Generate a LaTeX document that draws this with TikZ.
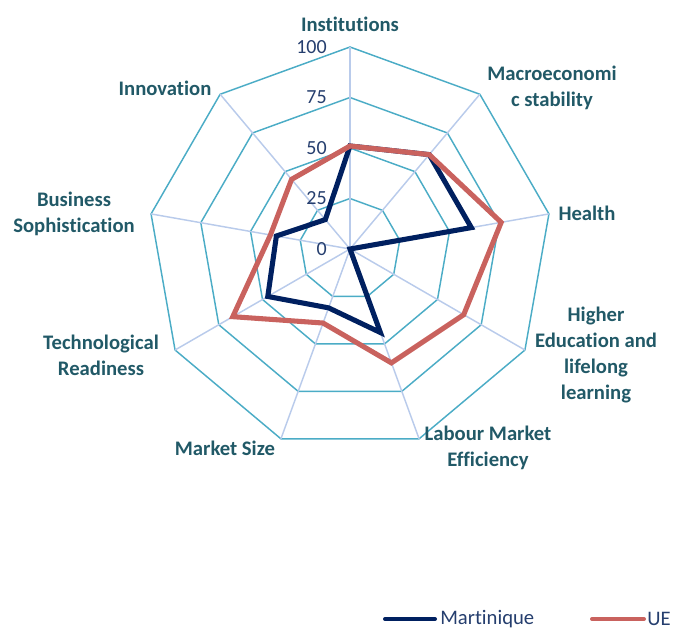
\documentclass[tikz,border=0pt]{standalone}
\usepackage{fontspec}
\setmainfont{Carlito}[RawFeature={-liga;-clig;-calt;-dlig}]

\definecolor{ringteal}{HTML}{4BACC6}
\definecolor{spokeblue}{HTML}{B9CBEB}
\definecolor{labelteal}{HTML}{215967}
\definecolor{tickblue}{HTML}{253E6E}
\definecolor{martblue}{HTML}{002060}
\definecolor{uered}{HTML}{C9625E}

\begin{document}
\begin{tikzpicture}[x=0.75pt, y=-0.75pt,
    ring/.style={draw=ringteal, line width=1.1pt, line join=miter},
    spoke/.style={draw=spokeblue, line width=1.1pt},
    series/.style={line width=3.8pt, line join=miter},
    axislabel/.style={text=labelteal, font=\fontsize{15.5}{19.5}\selectfont\bfseries, align=center, inner sep=0pt},
    ticklabel/.style={text=tickblue, font=\fontsize{15}{18}\selectfont, anchor=east, inner sep=0pt},
    legendtext/.style={text=tickblue, font=\fontsize{15.5}{18}\selectfont, anchor=west, inner sep=0pt}]

    \useasboundingbox (0,0) rectangle (675,632);

    \begin{scope}[shift={(350,249)}]  

        % web
        \foreach \v in {25,50,75,100} {
            \draw[ring] (-90:2.02*\v) \foreach \i in {1,...,8} { -- (-90+40*\i:2.02*\v) } -- cycle;
        }
        \foreach \i in {0,...,8} {
            \draw[spoke] (0,0) -- (-90+40*\i:202);
        }

        \foreach \v in {0,25,50,75,100} {
            \node[ticklabel] (tick\v) at (-23,-2.02*\v) {\v};
        }

        % Martinique
        \draw[series, martblue] (-90:2.02*51) -- (-50:2.02*61) -- (-10:2.02*61) -- (30:0) -- (70:2.02*44)
            -- (110:2.02*31) -- (150:2.02*47) -- (190:2.02*37) -- (230:2.02*19) -- cycle;

        % UE
        \draw[series, uered] (-90:2.02*51) -- (-50:2.02*61) -- (-10:2.02*76) -- (30:2.02*65) -- (70:2.02*60)
            -- (110:2.02*39) -- (150:2.02*67) -- (190:2.02*40) -- (230:2.02*45) -- cycle;

    \end{scope}

    \node[axislabel] (instit) at (350,24) {Institutions};
    \node[axislabel] (macro) at (552,88) {Macroeconomi\\c stability};
    \node[axislabel] (health) at (587,213) {Health};
    \node[axislabel] (higher) at (596,355) {Higher\\Education and\\lifelong\\learning};
    \node[axislabel] (labour) at (488,448) {Labour Market\\Efficiency};
    \node[axislabel] (msize) at (225,448) {Market Size};
    \node[axislabel] (techno) at (101,355) {Technological\\Readiness};
    \node[axislabel] (business) at (74,214) {Business\\Sophistication};
    \node[axislabel] (innov) at (165,88) {Innovation};

    % legend
    \draw[martblue, line width=3pt, line cap=round] (385,619) -- (435,619);
    \node[legendtext] (legmart) at (440,619) {Martinique};
    \draw[uered, line width=3pt, line cap=round] (592,619) -- (644,619);
    \node[legendtext] (legue) at (647,619) {UE};

\end{tikzpicture}
\end{document}
